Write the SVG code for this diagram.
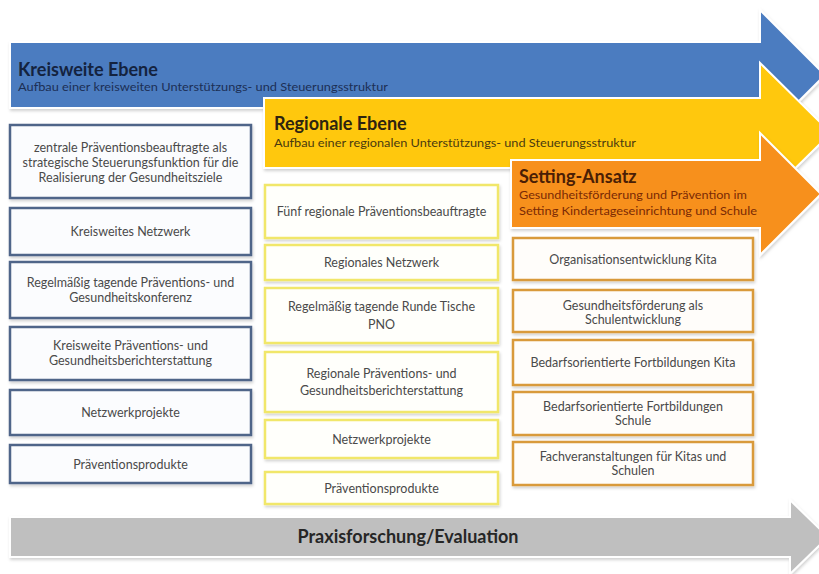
<svg xmlns="http://www.w3.org/2000/svg" width="819" height="574" viewBox="0 0 819 574">
  <defs>
    <filter id="shadow" x="-5%" y="-10%" width="110%" height="130%">
      <feDropShadow dx="1" dy="2" stdDeviation="1.5" flood-color="#000" flood-opacity="0.18"/>
    </filter>
    <style>
      .arrow { stroke: #ffffff; stroke-width: 2; filter: url(#shadow); }
      .box { fill: #ffffff; stroke-width: 2.5; filter: url(#shadow); }
      .kreis { stroke: #4f6589; fill: #fbfcfe; }
      .region { stroke: #f1e76a; fill: #fffffb; }
      .setting { stroke: #d99a3a; fill: #fffdfa; }
      .t { font-family: Lato, "Open Sans", "Liberation Sans", sans-serif; font-size: 12.5px; fill: #4a4a4a; text-anchor: middle; }
      .title { font-family: Lato, "Open Sans", "Liberation Sans", sans-serif; font-size: 18px; font-weight: bold; }
      .sub { font-family: Lato, "Open Sans", "Liberation Sans", sans-serif; font-size: 11.5px; }
    </style>
  </defs>

  <rect width="819" height="574" fill="#ffffff"/>

  <!-- level arrows -->
  <g id="kreisweite-ebene">
    <path class="arrow" d="M10,42 H760 V10 L825,75 L760,140 V108 H10 Z" fill="#4b7cc0"/>
    <text class="title" x="18" y="76" fill="#14233f">Kreisweite Ebene</text>
    <text class="sub" x="18" y="91" fill="#1c2f55" textLength="370" lengthAdjust="spacingAndGlyphs">Aufbau einer kreisweiten Unterstützungs- und Steuerungsstruktur</text>
  </g>

  <g id="regionale-ebene">
    <path class="arrow" d="M264,98 H760 V63 L831,133 L760,203 V168 H264 Z" fill="#ffc80a"/>
    <text class="title" x="274" y="130" fill="#2e2410">Regionale Ebene</text>
    <text class="sub" x="274" y="147" fill="#4a3a10" textLength="362" lengthAdjust="spacingAndGlyphs">Aufbau einer regionalen Unterstützungs- und Steuerungsstruktur</text>
  </g>

  <g id="setting-ansatz">
    <path class="arrow" d="M511,160 H760 V133 L821,194 L760,255 V228 H511 Z" fill="#f7901a"/>
    <text class="title" x="519" y="183" fill="#4a1e05">Setting-Ansatz</text>
    <text class="sub" x="519" y="199" fill="#7a2a05" textLength="228" lengthAdjust="spacingAndGlyphs">Gesundheitsförderung und Prävention im</text>
    <text class="sub" x="519" y="215" fill="#7a2a05" textLength="238" lengthAdjust="spacingAndGlyphs">Setting Kindertageseinrichtung und Schule</text>
  </g>

  <!-- district-wide column -->
  <g id="k1">
    <rect class="box kreis" x="10" y="125" width="241" height="73"/>
    <text class="t" x="130.5" y="152">zentrale Präventionsbeauftragte als</text>
    <text class="t" x="130.5" y="167">strategische  Steuerungsfunktion für die</text>
    <text class="t" x="130.5" y="182">Realisierung der Gesundheitsziele</text>
  </g>
  <g id="k2">
    <rect class="box kreis" x="10" y="208" width="241" height="47"/>
    <text class="t" x="130.5" y="236">Kreisweites Netzwerk</text>
  </g>
  <g id="k3">
    <rect class="box kreis" x="10" y="262" width="241" height="56"/>
    <text class="t" x="130.5" y="287">Regelmäßig tagende Präventions- und</text>
    <text class="t" x="130.5" y="302">Gesundheitskonferenz</text>
  </g>
  <g id="k4">
    <rect class="box kreis" x="10" y="327" width="241" height="53"/>
    <text class="t" x="130.5" y="350">Kreisweite Präventions- und</text>
    <text class="t" x="130.5" y="365">Gesundheitsberichterstattung</text>
  </g>
  <g id="k5">
    <rect class="box kreis" x="10" y="390" width="241" height="45"/>
    <text class="t" x="130.5" y="417">Netzwerkprojekte</text>
  </g>
  <g id="k6">
    <rect class="box kreis" x="10" y="445" width="241" height="38"/>
    <text class="t" x="130.5" y="469">Präventionsprodukte</text>
  </g>

  <!-- regional column -->
  <g id="r1">
    <rect class="box region" x="265" y="185" width="233" height="53"/>
    <text class="t" x="381.5" y="216">Fünf regionale Präventionsbeauftragte</text>
  </g>
  <g id="r2">
    <rect class="box region" x="265" y="245" width="233" height="35"/>
    <text class="t" x="381.5" y="267">Regionales Netzwerk</text>
  </g>
  <g id="r3">
    <rect class="box region" x="265" y="288" width="233" height="55"/>
    <text class="t" x="381.5" y="311">Regelmäßig tagende Runde Tische</text>
    <text class="t" x="381.5" y="329">PNO</text>
  </g>
  <g id="r4">
    <rect class="box region" x="265" y="352" width="233" height="60"/>
    <text class="t" x="381.5" y="378">Regionale Präventions- und</text>
    <text class="t" x="381.5" y="395">Gesundheitsberichterstattung</text>
  </g>
  <g id="r5">
    <rect class="box region" x="265" y="420" width="233" height="38"/>
    <text class="t" x="381.5" y="444">Netzwerkprojekte</text>
  </g>
  <g id="r6">
    <rect class="box region" x="265" y="472" width="233" height="32"/>
    <text class="t" x="381.5" y="493">Präventionsprodukte</text>
  </g>

  <!-- setting column -->
  <g id="s1">
    <rect class="box setting" x="513" y="238" width="240" height="42"/>
    <text class="t" x="633" y="264">Organisationsentwicklung Kita</text>
  </g>
  <g id="s2">
    <rect class="box setting" x="513" y="290" width="240" height="42"/>
    <text class="t" x="633" y="310">Gesundheitsförderung als</text>
    <text class="t" x="633" y="324">Schulentwicklung</text>
  </g>
  <g id="s3">
    <rect class="box setting" x="513" y="340" width="240" height="45"/>
    <text class="t" x="633" y="367">Bedarfsorientierte Fortbildungen Kita</text>
  </g>
  <g id="s4">
    <rect class="box setting" x="513" y="392" width="240" height="43"/>
    <text class="t" x="633" y="411">Bedarfsorientierte Fortbildungen</text>
    <text class="t" x="633" y="425">Schule</text>
  </g>
  <g id="s5">
    <rect class="box setting" x="513" y="442" width="240" height="43"/>
    <text class="t" x="633" y="461">Fachveranstaltungen für Kitas und</text>
    <text class="t" x="633" y="475">Schulen</text>
  </g>

  <!-- research / evaluation arrow -->
  <g id="praxisforschung">
    <path class="arrow" d="M10,517 H790 V500 L828,537 L790,574 V557 H10 Z" fill="#bfbfbf"/>
    <text class="title" x="408" y="543" fill="#262626" text-anchor="middle">Praxisforschung/Evaluation</text>
  </g>

  <g id="connectors"/>
</svg>
